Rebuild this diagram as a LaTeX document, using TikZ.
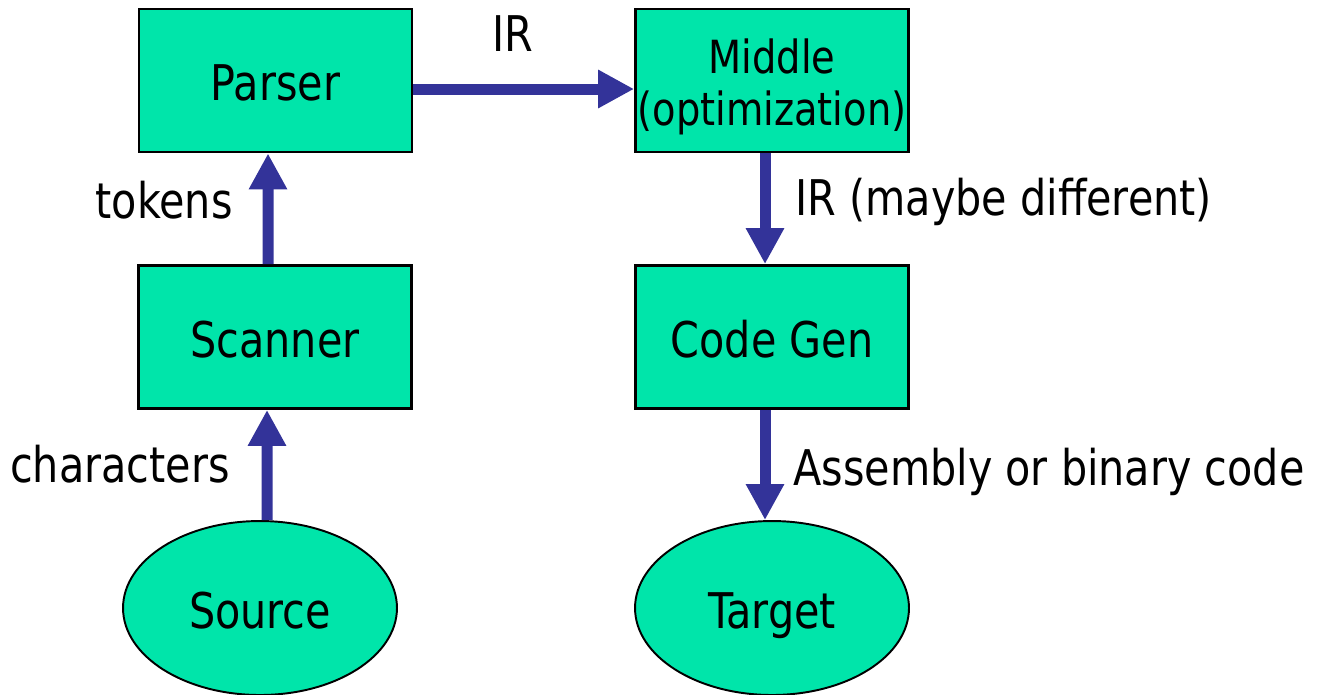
\documentclass[tikz,border=0pt]{standalone}
\usepackage{fontspec}
\setmainfont{DejaVu Sans}[FakeStretch=0.84]
\usetikzlibrary{arrows.meta,shapes.geometric}
\definecolor{boxgreen}{RGB}{0,229,170}
\definecolor{flowblue}{RGB}{51,51,153}

\begin{document}
\begin{tikzpicture}[x=0.02cm,y=-0.02cm]
\tikzstyle{stage}=[draw=black, line width=1.6pt, fill=boxgreen, minimum width=5.46cm, minimum height=2.86cm, inner sep=0pt, align=center, text height=0.8cm, text depth=0cm, font=\fontsize{28}{30}\selectfont]
\tikzstyle{endpoint}=[ellipse, draw=black, line width=1.1pt, fill=boxgreen, minimum width=5.48cm, minimum height=3.48cm, inner sep=0pt, text height=0.8cm, text depth=0cm, font=\fontsize{28}{34}\selectfont]
\tikzstyle{flow}=[draw=flowblue, line width=0.22cm, -{Triangle[length=0.72cm,width=0.72cm]}]
\tikzstyle{lbl}=[inner sep=0pt, font=\fontsize{28}{34}\selectfont]
\useasboundingbox (0,0) rectangle (1317,694);
\node[stage] (parser) at (275.5,80.5) {Parser};
\node[stage, text height=, text depth=, font=\fontsize{26}{29.6}\selectfont] (middle) at (772,80.5) {\rule{0pt}{0.94cm}Middle\\(optimization)};
\node[stage] (scanner) at (275,337) {Scanner};
\node[stage] (codegen) at (772,337) {Code Gen};
\node[endpoint] (source) at (260,608) {Source};
\node[endpoint] (target) at (772,608) {Target};
\draw[flow] ([xshift=0.14cm]source.north) -- ([xshift=-0.16cm]scanner.south);
\draw[flow] ([xshift=-0.14cm]scanner.north) -- ([xshift=-0.15cm]parser.south);
\draw[flow] ([yshift=-0.17cm]parser.east) -- ([yshift=-0.17cm]middle.west);
\draw[flow] ([xshift=-0.14cm]middle.south) -- ([xshift=-0.14cm]codegen.north);
\draw[flow] ([xshift=-0.14cm]codegen.south) -- ([xshift=-0.14cm]target.north);
\node[lbl, anchor=base] (irlabel) at (513,51) {IR};
\node[lbl, anchor=base east] (tokens) at (233,218) {tokens};
\node[lbl, anchor=base east] (chars) at (230,482) {characters};
\node[lbl, anchor=base west] (irdiff) at (795,215) {IR (maybe different)};
\node[lbl, anchor=base west] (asm) at (793,485) {Assembly or binary code};
\end{tikzpicture}
\end{document}
